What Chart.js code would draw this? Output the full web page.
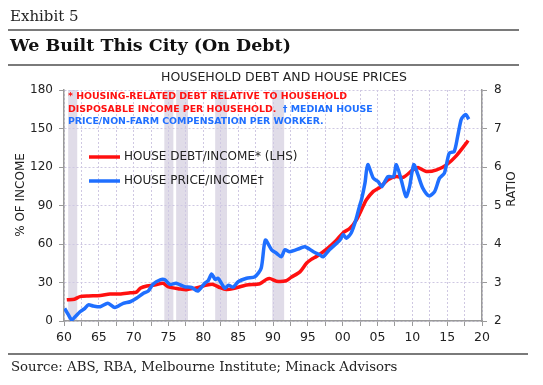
<!DOCTYPE html>
<html>
<head>
<meta charset="utf-8">
<script src="https://cdn.jsdelivr.net/npm/chart.js@4.4.0/dist/chart.umd.min.js"></script>
<style>
  html, body { margin: 0; padding: 0; background: #fff; }
  #wrap { position: relative; width: 543px; height: 385px; overflow: hidden; }
  #c { position: absolute; left: 0; top: 0; }
  .rule { position: absolute; height: 2px; background: #7a7a7a; }
  .txt { position: absolute; font-family: "DejaVu Serif", serif; color: #111; white-space: nowrap; }
</style>
</head>
<body>
<div id="wrap">
  <canvas id="c" width="543" height="385"></canvas>
  <div class="txt" style="left:10px;top:7px;font-size:15px;color:#222;">Exhibit 5</div>
  <div class="rule" style="left:8px;top:29px;width:511px;"></div>
  <div class="txt" style="left:10px;top:35px;font-size:17.5px;font-weight:bold;">We Built This City (On Debt)</div>
  <div class="rule" style="left:8px;top:64px;width:511px;"></div>
  <div class="rule" style="left:8px;top:353px;width:520px;"></div>
  <div class="txt" style="left:11px;top:359px;font-size:13.3px;color:#222;">Source: ABS, RBA, Melbourne Institute; Minack Advisors</div>
</div>
<script>
// House debt / income (% of income, LHS)
const debtYears = [1960.4, 1961.5, 1962.3, 1963.5, 1965.2, 1966.6, 1968, 1969.5, 1970.4, 1971, 1971.9,
  1973, 1974.2, 1974.9, 1976.6, 1977.6, 1979.5, 1980.5, 1981.4, 1982.4, 1983.3, 1984.3, 1986.2,
  1988.1, 1989.1, 1989.6, 1990.5, 1991.9, 1992.6, 1993.9, 1994.8, 1995.5, 1996.3, 1997.7, 1999.1,
  2000.1, 2001, 2002, 2002.9, 2003.4, 2004.4, 2005.3, 2006.5, 2007.7, 2008.7, 2010.1, 2010.8,
  2012, 2013.5, 2014.9, 2016.3, 2017.8, 2018];
const debtValues = [16.5, 17, 19, 19.5, 19.8, 21, 21, 22, 22.5, 25.7, 27.3,
  28, 29.4, 26.8, 25, 24.4, 26.5, 28, 28.5, 26, 24.5, 25.2, 28,
  29, 32.5, 33, 31, 31.4, 34, 38.5, 45, 48, 50.5, 56, 63,
  69, 72, 79, 89, 94.4, 101, 104, 110, 112.6, 112, 117.8, 119.6,
  116.5, 117.8, 121.7, 128.7, 139, 140.6];

// House price / income (ratio, RHS)
const priceYears = [1960.1, 1960.6, 1961.1, 1961.6, 1962.3, 1963, 1963.5, 1964.2, 1965.2, 1966.3, 1967.3,
  1968.5, 1969.5, 1970.4, 1971.4, 1972.1, 1972.8, 1973.8, 1974.5, 1975.2, 1976.1, 1977.3, 1978.3,
  1979.2, 1980.2, 1980.7, 1981.2, 1981.7, 1982.1, 1982.6, 1983.1, 1983.6, 1984.3, 1985, 1986.2,
  1987.4, 1988.3, 1988.9, 1989.8, 1990.5, 1991.2, 1991.7, 1992.4, 1993.9, 1994.6, 1995.8, 1996.7,
  1997.2, 1998.1, 1999.6, 2000.1, 2000.5, 2001.2, 2001.9, 2002.4, 2002.7, 2003.2, 2003.6, 2004.4,
  2005.1, 2005.6, 2006.5, 2007.3, 2007.7, 2008.4, 2009.1, 2009.6, 2010.2, 2010.8, 2011.5, 2012.4,
  2013.2, 2013.9, 2014.6, 2015.3, 2016, 2016.5, 2017, 2017.4, 2017.7, 2018.1];
const priceValues = [2.33, 2.17, 2.03, 2.11, 2.24, 2.33, 2.42, 2.39, 2.37, 2.46, 2.35,
  2.46, 2.5, 2.59, 2.72, 2.78, 2.96, 3.07, 3.07, 2.95, 2.98, 2.89, 2.87,
  2.78, 2.98, 3.05, 3.22, 3.08, 3.11, 2.98, 2.85, 2.93, 2.88, 3.02, 3.11,
  3.15, 3.37, 4.1, 3.85, 3.76, 3.67, 3.85, 3.8, 3.89, 3.93, 3.8, 3.72,
  3.67, 3.85, 4.1, 4.25, 4.15, 4.28, 4.63, 4.97, 5.15, 5.58, 6.06, 5.71,
  5.62, 5.49, 5.75, 5.75, 6.06, 5.67, 5.23, 5.49, 6.06, 5.8, 5.45, 5.25,
  5.36, 5.71, 5.84, 6.36, 6.4, 6.79, 7.23, 7.33, 7.36, 7.24];

// shaded periods (start, end)
const recessionStarts = [1960.6, 1974.4, 1976.1, 1981.7, 1989.9];
const recessionEnds = [1961.9, 1975.7, 1977.8, 1983.4, 1991.6];

const chartTitle = 'HOUSEHOLD DEBT AND HOUSE PRICES';
const noteLines = [
  [['* HOUSING-RELATED DEBT RELATIVE TO HOUSEHOLD', '#ff1010']],
  [['DISPOSABLE INCOME PER HOUSEHOLD.', '#ff1010'], ['  \u2020 MEDIAN HOUSE', '#1f6fff']],
  [['PRICE/NON-FARM COMPENSATION PER WORKER.', '#1f6fff']]
];

const RED = '#ff1010';
const BLUE = '#1f6fff';
const AXIS = '#9a9a9a';
const GRID = '#cfc8e2';
const SANS = '"DejaVu Sans", Verdana, sans-serif';

const toPoints = (xs, ys) => xs.map((x, i) => ({ x: x, y: ys[i] }));

const decor = {
  id: 'decor',
  beforeDraw(chart) {
    const { ctx, chartArea: a, scales: { x } } = chart;
    ctx.save();
    ctx.fillStyle = '#e0dce8';
    recessionStarts.forEach((s, i) => {
      const x1 = x.getPixelForValue(s), x2 = x.getPixelForValue(recessionEnds[i]);
      ctx.fillRect(x1, a.top, x2 - x1, a.bottom - a.top);
    });
    ctx.restore();
  },
  afterDraw(chart) {
    const { ctx, chartArea: a } = chart;
    ctx.save();
    // chart title
    ctx.fillStyle = '#222';
    ctx.font = '12.5px ' + SANS;
    ctx.textAlign = 'center';
    ctx.textBaseline = 'middle';
    ctx.fillText(chartTitle, 284, 78);

    // axis titles
    ctx.font = '12px ' + SANS;
    ctx.save();
    ctx.translate(21, 195);
    ctx.rotate(-Math.PI / 2);
    ctx.fillText('% OF INCOME', 0, 0);
    ctx.restore();
    ctx.save();
    ctx.translate(512, 189);
    ctx.rotate(-Math.PI / 2);
    ctx.fillText('RATIO', 0, 0);
    ctx.restore();

    // notes
    ctx.textAlign = 'left';
    ctx.font = 'bold 9.4px ' + SANS;
    noteLines.forEach((line, i) => {
      let px = a.left + 4;
      line.forEach(([t, c]) => {
        ctx.fillStyle = c;
        ctx.fillText(t, px, 97 + i * 12.3);
        px += ctx.measureText(t).width;
      });
    });

    // legend
    ctx.font = '12px ' + SANS;
    ctx.lineWidth = 3.5;
    chart.data.datasets.forEach((ds, i) => {
      const y = 157 + i * 24;
      ctx.strokeStyle = ds.borderColor;
      ctx.beginPath();
      ctx.moveTo(89, y);
      ctx.lineTo(120, y);
      ctx.stroke();
      ctx.fillStyle = '#222';
      ctx.fillText(ds.label, 124, y);
    });
    ctx.restore();
  }
};

new Chart(document.getElementById('c'), {
  type: 'line',
  data: {
    datasets: [
      {
        label: 'HOUSE DEBT/INCOME* (LHS)',
        data: toPoints(debtYears, debtValues),
        yAxisID: 'yL',
        borderColor: RED,
        borderWidth: 3.5,
        pointRadius: 0,
        tension: 0.25,
        order: 2
      },
      {
        label: 'HOUSE PRICE/INCOME\u2020',
        data: toPoints(priceYears, priceValues),
        yAxisID: 'yR',
        borderColor: BLUE,
        borderWidth: 3.5,
        pointRadius: 0,
        tension: 0.25,
        order: 1
      }
    ]
  },
  options: {
    responsive: false,
    animation: false,
    layout: { padding: { top: 90, bottom: 34, left: 0, right: 0 } },
    plugins: { legend: { display: false }, tooltip: { enabled: false } },
    scales: {
      x: {
        type: 'linear',
        min: 1960,
        max: 2020,
        afterFit: (s) => { s.height = 30; },
        afterBuildTicks: (s) => {
          const t = [];
          for (let v = 1960; v <= 2020; v += 2.5) t.push({ value: v });
          s.ticks = t;
        },
        ticks: {
          autoSkip: false,
          maxRotation: 0,
          padding: 4,
          color: '#222',
          font: { family: SANS, size: 12.5 },
          callback: (v) => (v % 5 === 0 ? String(v % 100).padStart(2, '0') : '')
        },
        grid: { color: GRID, lineWidth: 1, tickColor: AXIS, tickLength: 5 },
        border: { color: AXIS, width: 1.5, dash: [2, 2] }
      },
      yL: {
        position: 'left',
        min: 0,
        max: 180,
        afterFit: (s) => { s.width = 64; },
        ticks: { stepSize: 30, padding: 6, color: '#222', font: { family: SANS, size: 12 } },
        grid: { color: GRID, lineWidth: 1, tickColor: AXIS, tickLength: 5 },
        border: { color: AXIS, width: 1.5, dash: [2, 2] }
      },
      yR: {
        position: 'right',
        min: 2,
        max: 8,
        afterFit: (s) => { s.width = 61; },
        ticks: { stepSize: 1, padding: 7, color: '#222', font: { family: SANS, size: 12 } },
        grid: { drawOnChartArea: false, tickColor: AXIS, tickLength: 5 },
        border: { color: AXIS, width: 1.5 }
      }
    }
  },
  plugins: [decor]
});
</script>
</body>
</html>
